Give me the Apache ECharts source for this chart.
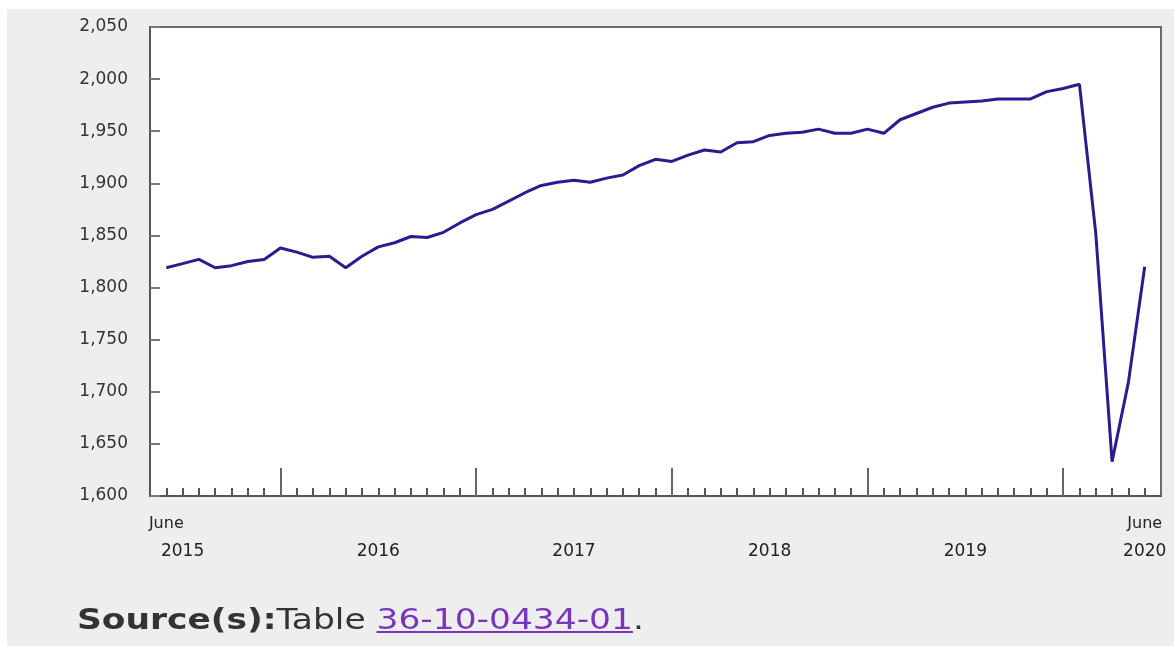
<!DOCTYPE html>
<html>
<head>
<meta charset="utf-8">
<title>GDP monthly</title>
<script src="https://cdn.jsdelivr.net/npm/echarts@6/dist/echarts.min.js"></script>
<style>
    html, body { margin: 0; padding: 0; background: #fff; }
    #panel { position: absolute; left: 7px; top: 9px; width: 1167px; height: 637px; background: #eeeeee; }
    #main { position: absolute; left: 0; top: 0; width: 1174px; height: 646px; }
    #source { position: absolute; left: 77px; top: 600px; font-family: "DejaVu Sans"; font-size: 28px;
              line-height: 40px; color: #333; white-space: nowrap;
              transform: scaleX(1.23); transform-origin: left top; }
    #source a { color: #7834bc; text-decoration: underline; }
</style>
</head>
<body>
<div id="panel"></div>
<div id="main"></div>
<div id="source"><b>Source(s):</b>Table <a href="#">36-10-0434-01</a>.</div>
<script>
// monthly values, June 2015 .. June 2020
var values = [
    1819, 1823, 1827, 1819, 1821, 1825, 1827,             // 2015 Jun-Dec
    1838, 1834, 1829, 1830, 1819, 1830, 1839, 1843, 1849, 1848, 1853, 1862, // 2016
    1870, 1875, 1883, 1891, 1898, 1901, 1903, 1901, 1905, 1908, 1917, 1923, // 2017
    1921, 1927, 1932, 1930, 1939, 1940, 1946, 1948, 1949, 1952, 1948, 1948, // 2018
    1952, 1948, 1961, 1967, 1973, 1977, 1978, 1979, 1981, 1981, 1981, 1988, // 2019
    1991, 1995, 1852, 1633, 1709, 1820                    // 2020 Jan-Jun
];
var startYear = 2015, startMonth = 5; // June
var monthNames = ['January', 'February', 'March', 'April', 'May', 'June',
                  'July', 'August', 'September', 'October', 'November', 'December'];
var yTicks = [1600, 1650, 1700, 1750, 1800, 1850, 1900, 1950, 2000, 2050];

// month list built from the start date
var months = [];
for (var i = 0; i < values.length; i++) {
    var m = (startMonth + i) % 12;
    months.push({ name: monthNames[m], month: m, year: startYear + Math.floor((startMonth + i) / 12) });
}
var last = months.length - 1;

var tickIdx = months.map(function (d, i) { return i; });
var janIdx = tickIdx.filter(function (i) { return months[i].month === 0; });
// year labels: just right of the first month, middle (July) of each full year, last month
var yearIdx = [1].concat(tickIdx.filter(function (i) { return months[i].month === 6 && i > 1 && i < last; })).concat([last]);
var monthIdx = [0, last];

var font = 'DejaVu Sans';
var myChart = echarts.init(document.getElementById('main'));

var option = {
    animation: false,
    grid: {
        left: 150, top: 27, right: 13, bottom: 150,
        show: true, backgroundColor: '#fff', borderColor: '#6a6a6a', borderWidth: 2
    },
    xAxis: [{
        type: 'value', min: -1, max: last + 1,
        axisLine: { show: true, lineStyle: { color: '#555', width: 2 } },
        axisTick: { show: true, inside: true, length: 8, customValues: tickIdx, lineStyle: { color: '#555', width: 2 } },
        splitLine: { show: false },
        axisLabel: {
            customValues: yearIdx,
            margin: 47,
            fontFamily: font, fontSize: 17, color: '#222',
            formatter: function (v) { return String(months[v].year); }
        }
    }, {
        type: 'value', min: -1, max: last + 1, position: 'bottom',
        axisLine: { show: false },
        axisTick: { show: true, inside: true, length: 28, customValues: janIdx, lineStyle: { color: '#666', width: 2 } },
        axisLabel: {
            customValues: monthIdx,
            margin: 20,
            fontFamily: font, fontSize: 16, color: '#222',
            formatter: function (v) { return months[v].name; }
        },
        splitLine: { show: false }
    }],
    yAxis: {
        type: 'value',
        min: yTicks[0], max: yTicks[yTicks.length - 1], interval: 50,
        axisLine: { show: true, onZero: false, lineStyle: { color: '#555', width: 2 } },
        axisTick: { show: true, inside: true, length: 10, lineStyle: { color: '#777', width: 2 } },
        splitLine: { show: false },
        axisLabel: {
            margin: 22, fontFamily: font, fontSize: 17, color: '#333',
            formatter: function (v) { return v.toLocaleString('en-US'); }
        }
    },
    series: [{
        type: 'line',
        xAxisIndex: 0,
        data: values.map(function (v, i) { return [i, v]; }),
        showSymbol: false,
        silent: true,
        lineStyle: { color: '#2e1a8e', width: 3 }
    }]
};

myChart.setOption(option);
</script>
</body>
</html>
